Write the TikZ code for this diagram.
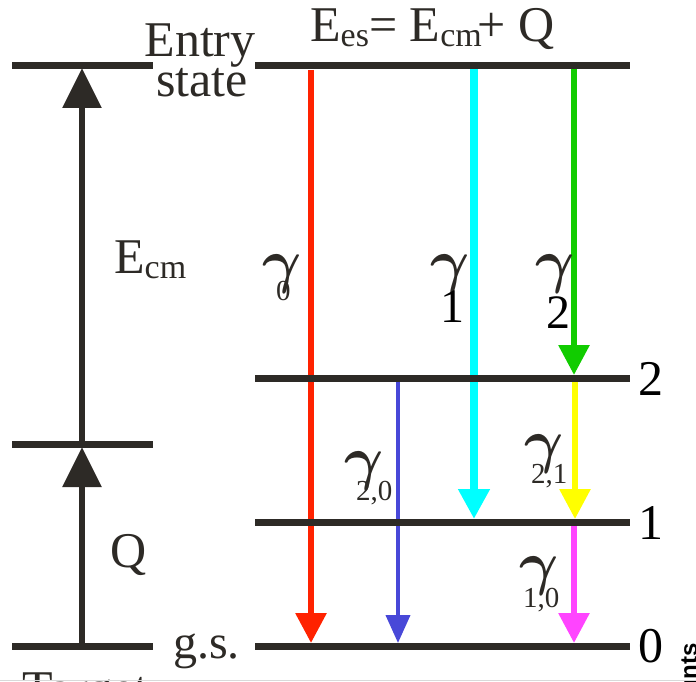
\RequirePackage{fix-cm}
\documentclass[tikz,border=0pt]{standalone}
\usepackage{fontspec}
\setmainfont{Liberation Serif}
\setsansfont{Liberation Sans}
\usetikzlibrary{arrows.meta}
\definecolor{ink}{HTML}{2D2A26}
\definecolor{cred}{HTML}{FF2200}
\definecolor{ccyan}{HTML}{00FFFF}
\definecolor{cgreen}{HTML}{11CC00}
\definecolor{cyellow}{HTML}{FFFF00}
\definecolor{cmag}{HTML}{FF44FF}
\definecolor{cblue}{HTML}{4848D8}
\newcommand{\lowsub}[1]{\raisebox{-0.1em}{\fontsize{34}{34}\selectfont #1}}
\newcommand{\gsymb}{$\gamma$}
\tikzset{
  level/.style={draw=ink, line width=7pt},
  up/.style={draw=ink, line width=6pt, -{Triangle[length=40pt,width=38pt]}, fill=ink},
  gam/.style={line width=6pt, -{Triangle[length=30pt,width=30pt]}},
  bigtxt/.style={inner sep=0pt, anchor=base west, text=ink, font=\fontsize{50}{40}\selectfont},
  gsym/.style={inner sep=0pt, anchor=base west, text=ink, font=\fontsize{60}{60}\selectfont\boldmath},
  gsub/.style={inner sep=0pt, anchor=base west, text=ink, font=\fontsize{29}{29}\selectfont},
  gsubbig/.style={inner sep=0pt, anchor=base west, text=black, font=\fontsize{48}{48}\selectfont},
}
\begin{document}
\begin{tikzpicture}[x=1pt,y=-1pt]
\useasboundingbox (0,0) rectangle (696,682);
% coordinates of level ends
\coordinate (LeL) at (12,66);   \coordinate (LeR) at (153,66);
\coordinate (LmL) at (12,444);  \coordinate (LmR) at (153,444);
\coordinate (LgL) at (12,646);  \coordinate (LgR) at (153,646);
\coordinate (ReL) at (255,66);  \coordinate (ReR) at (630,66);
\coordinate (R2L) at (255,378); \coordinate (R2R) at (630,378);
\coordinate (R1L) at (255,522); \coordinate (R1R) at (630,522);
\coordinate (R0L) at (255,646); \coordinate (R0R) at (630,646);
% arrow end points
\coordinate (aQs) at (82,646);  \coordinate (aQe) at (82,447);
\coordinate (aEs) at (82,444);  \coordinate (aEe) at (82,68);
\coordinate (redS) at (311,70); \coordinate (redE) at (311,643);
\coordinate (cyS) at (474,66);  \coordinate (cyE) at (474,519);
\coordinate (grS) at (574,66);  \coordinate (grE) at (574,375);
\coordinate (yeS) at (575,378); \coordinate (yeE) at (575,519);
\coordinate (maS) at (574,522); \coordinate (maE) at (574,643);
\coordinate (blS) at (398,378); \coordinate (blE) at (398,643);
% arrows
\draw[up] (aQs) -- (aQe);
\draw[up] (aEs) -- (aEe);
\draw[gam, cred] (redS) -- (redE);
\draw[gam, ccyan, line width=8pt] (cyS) -- (cyE);
\draw[gam, cgreen] (grS) -- (grE);
\draw[gam, cyellow] (yeS) -- (yeE);
\draw[gam, cmag] (maS) -- (maE);
\draw[gam, cblue, line width=4pt, -{Triangle[length=28pt,width=24pt]}] (blS) -- (blE);
% levels
\draw[level] (LeL) -- (LeR);
\draw[level] (LmL) -- (LmR);
\draw[level] (LgL) -- (LgR);
\draw[level] (ReL) -- (ReR);
\draw[level] (R2L) -- (R2R);
\draw[level] (R1L) -- (R1R);
\draw[level] (R0L) -- (R0R);
% labels
\node[bigtxt, anchor=base] (entry) at (200,57) {Entry};
\node[bigtxt, anchor=base] (state) at (202,97) {state};
\node[bigtxt] (ees) at (310,42) {E\lowsub{es}= E\lowsub{cm}\hspace{-4pt}+ Q};
\node[bigtxt] (ecm) at (114,273) {E\lowsub{cm}};
\node[bigtxt] (qlab) at (110,567) {Q};
\node[bigtxt, font=\fontsize{48}{48}\selectfont] (gs) at (173,658) {g.s.};
\node[bigtxt, text=black] (n2) at (638,395) {2};
\node[bigtxt, text=black] (n1) at (638,539) {1};
\node[bigtxt, text=black] (n0) at (638,662) {0};
% gamma labels
\node[gsym] (g0) at (262,281) {\gsymb};
\node[gsub] (g0s) at (276,300) {0};
\node[gsym] (g1) at (430,281) {\gsymb};
\node[gsubbig] (g1s) at (440,322) {1};
\node[gsym] (g2) at (535,281) {\gsymb};
\node[gsubbig] (g2s) at (546,328) {2};
\node[gsym] (g20) at (344,478) {\gsymb};
\node[gsub] (g20s) at (356,500) {2,0};
\node[gsym] (g21) at (524,461) {\gsymb};
\node[gsub] (g21s) at (531,483) {2,1};
\node[gsym] (g10) at (519,583) {\gsymb};
\node[gsub] (g10s) at (523,607) {1,0};
% cropped fragments at the edges
\node[bigtxt] (target) at (22,705) {Target};
\node[inner sep=0pt, anchor=base east, rotate=90, text=black, font=\sffamily\bfseries\fontsize{24}{24}\selectfont] (counts) at (697,643) {Counts};
\draw[gray!30, line width=1.5pt] (0,680.5) coordinate (bl) -- (696,680.5) coordinate (br);
\end{tikzpicture}
\end{document}
